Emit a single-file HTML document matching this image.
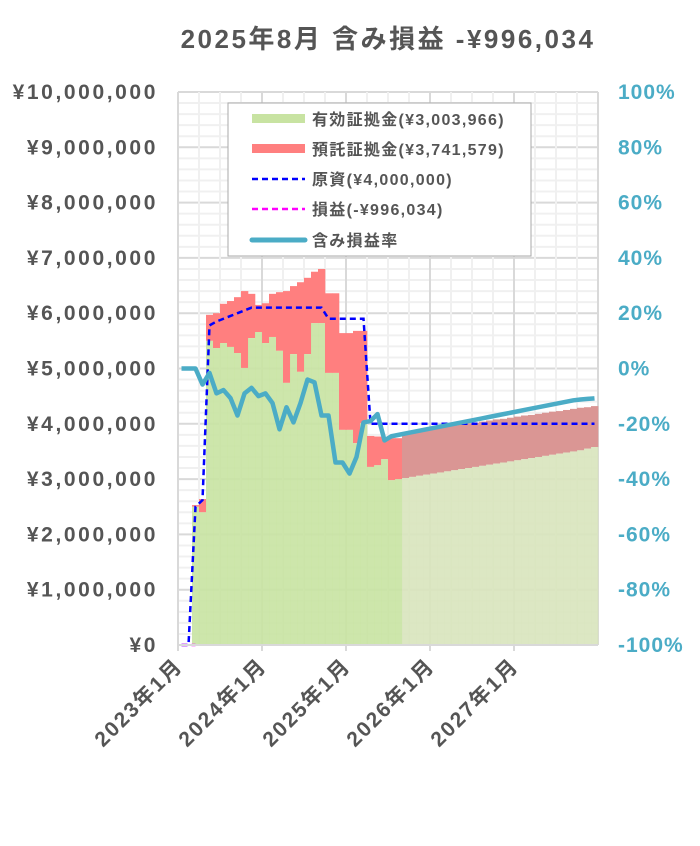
<!DOCTYPE html>
<html><head><meta charset="utf-8">
<style>
body{margin:0;background:#fff;width:700px;height:841px;overflow:hidden}
svg text{font-family:"Liberation Sans","Noto Sans CJK JP",sans-serif;font-weight:bold;fill:#555}
</style></head><body>
<svg id="c" width="700" height="841" xmlns="http://www.w3.org/2000/svg">
<text x="388" y="48" text-anchor="middle" font-size="26" letter-spacing="2.5">2025年8月 含み損益 -¥996,034</text>
<g id="grid"></g><g id="bars"></g><g id="lines"></g><g id="axes"></g>
<g id="legend">
<rect x="228" y="103" width="303" height="153" fill="#fff" stroke="#aaa" stroke-width="1"/>
<g><rect x="252" y="114" width="53" height="9" fill="#c8e3a2"/><text x="312" y="125" font-size="16" letter-spacing="1.3">有効証拠金(¥3,003,966)</text></g>
<g><rect x="252" y="144" width="53" height="9" fill="#ff7f7f"/><text x="312" y="155" font-size="16" letter-spacing="1.3">預託証拠金(¥3,741,579)</text></g>
<g><line x1="252" y1="179" x2="305" y2="179" stroke="#0000ff" stroke-width="2.5" stroke-dasharray="6,4"/><text x="312" y="185" font-size="16" letter-spacing="1.3">原資(¥4,000,000)</text></g>
<g><line x1="252" y1="209" x2="305" y2="209" stroke="#ff00ff" stroke-width="2.5" stroke-dasharray="6,4"/><text x="312" y="215" font-size="16" letter-spacing="1.3">損益(-¥996,034)</text></g>
<g><line x1="252" y1="240" x2="305" y2="240" stroke="#4bacc6" stroke-width="5" stroke-linecap="round"/><text x="312" y="246" font-size="16" letter-spacing="1.3">含み損益率</text></g>
</g>
</svg>
<script>
const months=60, actualMonths=32;
const marginVals=[0,0,2.5,2.4,5.5,5.37,5.46,5.39,5.28,5.01,5.55,5.66,5.46,5.57,5.32,4.74,5.26,4.94,5.26,5.82,5.82,4.92,4.92,3.89,3.89,3.65,4.01,3.22,3.25,3.36,2.98,3.0,
3.02,3.04,3.06,3.08,3.10,3.12,3.14,3.16,3.18,3.20,3.22,3.24,3.26,3.28,3.30,3.32,3.34,3.36,3.38,3.40,3.42,3.44,3.46,3.48,3.50,3.52,3.55,3.58];
const depositVals=[0,0,2.53,2.64,5.97,6.0,6.17,6.22,6.29,6.40,6.35,6.15,6.18,6.35,6.38,6.40,6.49,6.56,6.64,6.75,6.80,6.36,6.36,5.64,5.64,5.68,5.68,3.78,3.77,3.76,3.74,3.74,
3.85,3.87,3.89,3.90,3.92,3.94,3.96,3.97,3.99,4.01,4.02,4.04,4.06,4.08,4.09,4.11,4.13,4.15,4.16,4.18,4.20,4.22,4.23,4.25,4.27,4.29,4.30,4.32];
const capitalVals=[0,0,2.5,2.62,5.78,5.85,5.9,5.95,6.0,6.05,6.1,6.1,6.1,6.1,6.1,6.1,6.1,6.1,6.1,6.1,6.1,5.9,5.9,5.9,5.9,5.9,5.9,4.0,4.0,4.0,4.0,4.0,
4,4,4,4,4,4,4,4,4,4,4,4,4,4,4,4,4,4,4,4,4,4,4,4,4,4,4,4];
const profitVals=[0,0,0];
const rateVals=[0,0,0,-5.8,-1.6,-9,-7.8,-10.7,-17,-9,-7,-10,-9,-12.5,-22,-14,-19.5,-12.5,-4,-5,-17,-17,-34,-34,-38,-32,-19.5,-19,-16.5,-26,-24.5,-24,
-23.5,-23,-22.5,-22,-21.5,-21,-20.5,-20,-19.5,-19,-18.5,-18,-17.5,-17,-16.5,-16,-15.5,-15,-14.5,-14,-13.5,-13,-12.5,-12,-11.5,-11.2,-11,-10.8];
const yTicks=[0,1,2,3,4,5,6,7,8,9,10];
const yLabels=["¥0","¥1,000,000","¥2,000,000","¥3,000,000","¥4,000,000","¥5,000,000","¥6,000,000","¥7,000,000","¥8,000,000","¥9,000,000","¥10,000,000"];
const rTicks=[-100,-80,-60,-40,-20,0,20,40,60,80,100];
const xLabels=["2023年1月","2024年1月","2025年1月","2026年1月","2027年1月"];

const L=178,R=598,T=92,B=645,MW=(R-L)/months;
const xm=i=>L+i*MW, xc=i=>L+(i+0.5)*MW;
const y=v=>B-(v/10)*(B-T);
const yr=p=>B-((p+100)/200)*(B-T);
const NS="http://www.w3.org/2000/svg";
function mk(tag,attrs,parent){const e=document.createElementNS(NS,tag);for(const k in attrs)e.setAttribute(k,attrs[k]);document.getElementById(parent).appendChild(e);return e;}

for(let v=0;v<=10.001;v+=0.2){const maj=Math.abs(v-Math.round(v))<1e-6;
 const g=mk('line',{x1:L,x2:R,y1:y(v),y2:y(v),stroke:maj?'#d9d9d9':'#f0f0f0','stroke-width':2},'grid');
 
 }
for(let m=0;m<=months;m+=3){const maj=m%12==0;
 const g=mk('line',{x1:xm(m),x2:xm(m),y1:T,y2:B,stroke:maj?'#d9d9d9':'#f0f0f0','stroke-width':2},'grid');
 
 }

for(let i=0;i<months;i++){
 const act=i<actualMonths;
 if(depositVals[i]>marginVals[i]){
  const r=mk('rect',{x:xm(i),width:MW+0.3,y:y(depositVals[i]),height:y(marginVals[i])-y(depositVals[i]),fill:act?'#ff7f7f':'#da9694'},'bars');
  
  }
 if(marginVals[i]>0){
  const r=mk('rect',{x:xm(i),width:MW+0.3,y:y(marginVals[i]),height:B-y(marginVals[i]),fill:act?'#c8e3a2':'#d8e4bc','fill-opacity':0.9},'bars');
  
  }
}
const cap=mk('polyline',{points:capitalVals.map((v,i)=>xc(i)+','+y(v)).join(' '),fill:'none',stroke:'#0000ff','stroke-width':2.5,'stroke-dasharray':'6,4'},'lines');


const pf=mk('polyline',{points:profitVals.map((v,i)=>xc(i)+','+y(v)).join(' '),fill:'none',stroke:'#ff00ff','stroke-width':2.5,'stroke-dasharray':'6,4'},'lines');


const rl=mk('polyline',{points:rateVals.map((v,i)=>xc(i)+','+yr(v)).join(' '),fill:'none',stroke:'#4bacc6','stroke-width':4.5,'stroke-linejoin':'round'},'lines');



const ax=mk('line',{x1:L,x2:R,y1:B,y2:B,stroke:'#d9d9d9','stroke-width':2},'axes');


yTicks.forEach((v,i)=>{const t=mk('text',{x:158,y:y(v)+7,'text-anchor':'end','font-size':21,'letter-spacing':2.6},'axes');t.textContent=yLabels[i];
 
 });
rTicks.forEach(p=>{const t=mk('text',{x:618,y:yr(p)+7,'font-size':21,'letter-spacing':1,style:'fill:#4bacc6'},'axes');t.textContent=p+'%';
 
 });
xLabels.forEach((s,i)=>{const xx=xm(i*12);
 const tk=mk('line',{x1:xx,x2:xx,y1:B,y2:B+6,stroke:'#d9d9d9','stroke-width':2},'axes');
 
 
 const t=mk('text',{x:xx+6,y:B+22,'text-anchor':'end','font-size':21,'letter-spacing':2,transform:`rotate(-45 ${xx+6} ${B+22})`},'axes');t.textContent=s;
 
 });
</script>
</body></html>
